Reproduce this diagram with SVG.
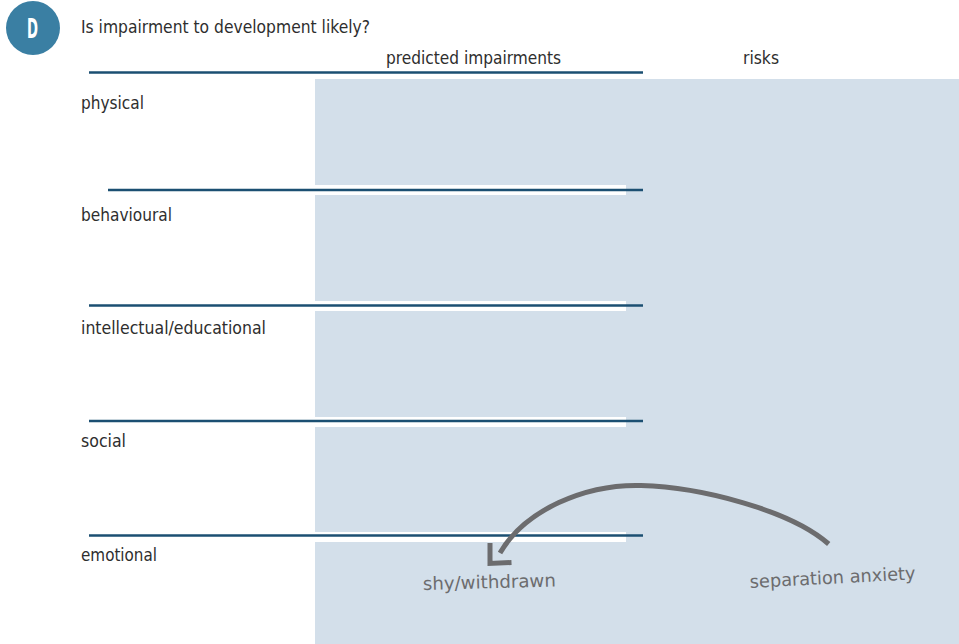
<svg xmlns="http://www.w3.org/2000/svg" width="959" height="644" viewBox="0 0 959 644">
<style>
.t{font-family:"DejaVu Sans Condensed","DejaVu Sans","Liberation Sans",sans-serif;font-stretch:condensed;font-size:18px;fill:#2e2e2e}
.h{font-family:"DejaVu Sans","Liberation Sans",sans-serif;font-size:18px;fill:#6c6c6e}
.sep{stroke:#1b4f72;stroke-width:2.6;fill:none}
.band{fill:#ffffff}
.arr{stroke:#6c6c6e;fill:none;stroke-width:5}
</style>
<rect width="959" height="644" fill="#ffffff"/>
<g id="panel">
<rect x="315" y="79" width="644" height="565" fill="#d3dfea"/>
<rect class="band" x="315" y="185" width="311" height="10"/>
<rect class="band" x="315" y="301" width="311" height="10"/>
<rect class="band" x="315" y="417" width="311" height="10"/>
<rect class="band" x="315" y="532" width="311" height="10"/>
</g>
<g id="separators">
<line class="sep" x1="89" y1="72.5" x2="643" y2="72.5"/>
<line class="sep" x1="108" y1="190" x2="643" y2="190"/>
<line class="sep" x1="89" y1="305.5" x2="643" y2="305.5"/>
<line class="sep" x1="89" y1="421" x2="643" y2="421"/>
<line class="sep" x1="89" y1="535.5" x2="643" y2="535.5"/>
</g>
<g id="badge">
<circle cx="33" cy="28" r="27" fill="#3a7fa3"/>
<text x="27" y="37.5" font-family="DejaVu Sans Condensed, DejaVu Sans, sans-serif" font-weight="bold" font-size="27" fill="#ffffff" textLength="11" lengthAdjust="spacingAndGlyphs">D</text>
</g>
<g id="title"><text class="t" x="81" y="33" textLength="289" lengthAdjust="spacingAndGlyphs">Is impairment to development likely?</text></g>
<g id="col-predicted"><text class="t" x="386" y="64" textLength="175" lengthAdjust="spacingAndGlyphs">predicted impairments</text></g>
<g id="col-risks"><text class="t" x="743" y="64" textLength="36" lengthAdjust="spacingAndGlyphs">risks</text></g>
<g id="row-physical"><text class="t" x="81" y="109" textLength="63" lengthAdjust="spacingAndGlyphs">physical</text></g>
<g id="row-behavioural"><text class="t" x="81" y="221" textLength="91" lengthAdjust="spacingAndGlyphs">behavioural</text></g>
<g id="row-intellectual"><text class="t" x="81" y="334" textLength="185" lengthAdjust="spacingAndGlyphs">intellectual/educational</text></g>
<g id="row-social"><text class="t" x="81" y="447" textLength="45" lengthAdjust="spacingAndGlyphs">social</text></g>
<g id="row-emotional"><text class="t" x="81" y="560.5" textLength="76" lengthAdjust="spacingAndGlyphs">emotional</text></g>
<g id="shy-withdrawn"><text class="h" x="423" y="590" transform="rotate(-1.5 423 590)" textLength="133" lengthAdjust="spacingAndGlyphs">shy/withdrawn</text></g>
<g id="separation-anxiety"><text class="h" x="750" y="588" transform="rotate(-3 750 588)" textLength="166" lengthAdjust="spacingAndGlyphs">separation anxiety</text></g>
<g id="connectors">
<path class="arr" d="M828.7,544 C790,510 700,487 641,485.5 C585,484 525,510 500,553"/>
<polyline class="arr" points="490,543 490,563.5 511.5,562.5"/>
</g>
</svg>
